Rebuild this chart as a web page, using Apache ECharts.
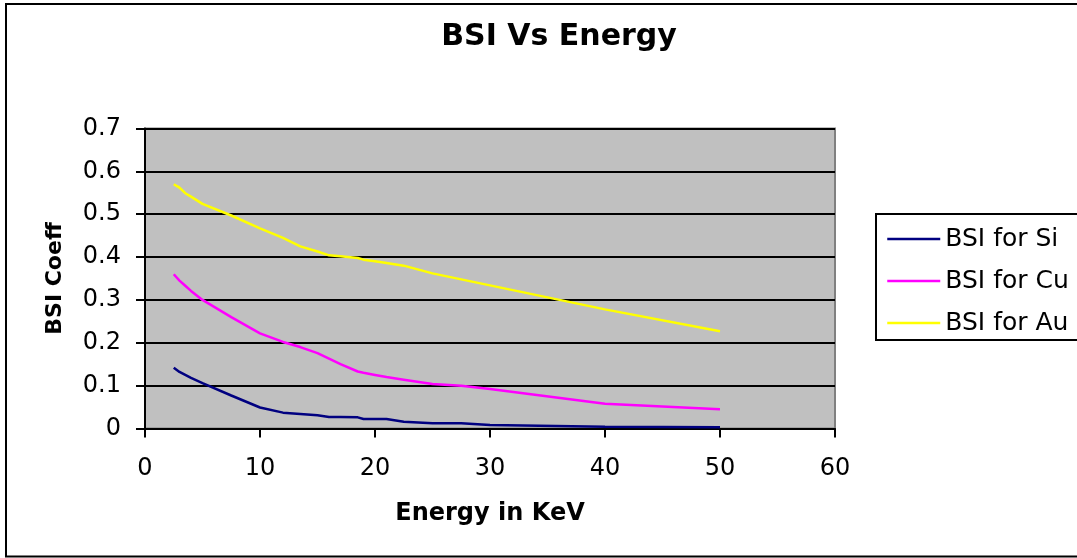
<!DOCTYPE html>
<html>
<head>
<meta charset="utf-8">
<script src="https://cdn.jsdelivr.net/npm/echarts@6/dist/echarts.min.js"></script>
<style>
html,body{margin:0;padding:0;background:#fff;}
#c{width:1077px;height:558px;}
</style>
</head>
<body>
<div id="c"></div>
<script>
// Data
const energy = [2.5, 3, 3.5, 4, 5, 7.5, 10, 12, 13.5, 15, 16, 17, 18.5, 19, 20, 21, 22.5, 25, 27.5, 30, 40, 50];
const bsiSi = [0.142, 0.132, 0.125, 0.118, 0.106, 0.077, 0.049, 0.037, 0.034, 0.031, 0.027, 0.027, 0.026, 0.022, 0.022, 0.022, 0.016, 0.012, 0.012, 0.008, 0.004, 0.003];
const bsiCu = [0.360, 0.345, 0.333, 0.321, 0.300, 0.260, 0.222, 0.202, 0.190, 0.176, 0.163, 0.150, 0.133, 0.130, 0.125, 0.120, 0.114, 0.104, 0.100, 0.092, 0.058, 0.045];
const bsiAu = [0.570, 0.562, 0.549, 0.541, 0.524, 0.497, 0.467, 0.445, 0.425, 0.413, 0.404, 0.402, 0.398, 0.394, 0.390, 0.386, 0.380, 0.362, 0.348, 0.334, 0.278, 0.227];
const seriesNames = ['BSI for Si', 'BSI for Cu', 'BSI for Au'];
const titleText = 'BSI Vs Energy';
const xName = 'Energy in KeV';
const yName = 'BSI Coeff';

const pairs = (ys) => energy.map((e, i) => [e, ys[i]]);
const regular = 'DejaVu Sans';

const chart = echarts.init(document.getElementById('c'), null, {renderer: 'canvas'});
chart.setOption({
  animation: false,
  backgroundColor: '#fff',
  title: {
    text: titleText,
    left: 559,
    top: 22,
    padding: 0,
    textAlign: 'center',
    textStyle: {fontFamily: regular, fontWeight: 'bold', fontSize: 30, color: '#000'}
  },
  graphic: [{
    type: 'rect',
    shape: {x: 6, y: 4, width: 1200, height: 552.5},
    style: {fill: 'none', stroke: '#000', lineWidth: 2},
    silent: true
  }],
  legend: {
    orient: 'vertical',
    left: 876,
    top: 214,
    padding: [12, 40, 4, 10],
    itemWidth: 53,
    itemHeight: 26,
    itemGap: 16,
    backgroundColor: '#fff',
    borderColor: '#000',
    borderWidth: 2,
    borderRadius: 0,
    itemStyle: {opacity: 0},
    lineStyle: {width: 2.5},
    textStyle: {fontFamily: regular, fontSize: 25, color: '#000', lineHeight: 26},
    data: seriesNames
  },
  grid: {
    left: 145,
    right: 242,
    top: 128.5,
    bottom: 129.5,
    show: true,
    backgroundColor: '#C0C0C0',
    borderColor: '#808080',
    borderWidth: 2
  },
  xAxis: {
    type: 'value',
    min: 0,
    max: 60,
    interval: 10,
    name: xName,
    nameLocation: 'middle',
    nameGap: 73,
    nameTextStyle: {fontFamily: regular, fontWeight: 'bold', fontSize: 24, color: '#000'},
    axisLine: {show: true, lineStyle: {color: '#000', width: 2}},
    axisTick: {show: true, inside: false, length: 9, lineStyle: {color: '#000', width: 2}},
    axisLabel: {margin: 28, fontFamily: regular, fontSize: 24, color: '#000'},
    splitLine: {show: false}
  },
  yAxis: {
    type: 'value',
    min: 0,
    max: 0.7,
    interval: 0.1,
    name: yName,
    nameLocation: 'middle',
    nameGap: 79,
    nameRotate: 90,
    nameTextStyle: {fontFamily: regular, fontWeight: 'bold', fontSize: 22, color: '#000'},
    axisLine: {show: true, lineStyle: {color: '#000', width: 2}},
    axisTick: {show: true, inside: false, length: 9, lineStyle: {color: '#000', width: 2}},
    axisLabel: {margin: 24, fontFamily: regular, fontSize: 24, color: '#000'},
    splitLine: {show: true, lineStyle: {color: '#000', width: 2}}
  },
  series: [
    {name: seriesNames[0], type: 'line', data: pairs(bsiSi), symbol: 'none', lineStyle: {color: '#000080', width: 2.5}, itemStyle: {color: '#000080'}},
    {name: seriesNames[1], type: 'line', data: pairs(bsiCu), symbol: 'none', lineStyle: {color: '#FF00FF', width: 2.5}, itemStyle: {color: '#FF00FF'}},
    {name: seriesNames[2], type: 'line', data: pairs(bsiAu), symbol: 'none', lineStyle: {color: '#FFFF00', width: 2.5}, itemStyle: {color: '#FFFF00'}}
  ]
});
</script>
</body>
</html>
